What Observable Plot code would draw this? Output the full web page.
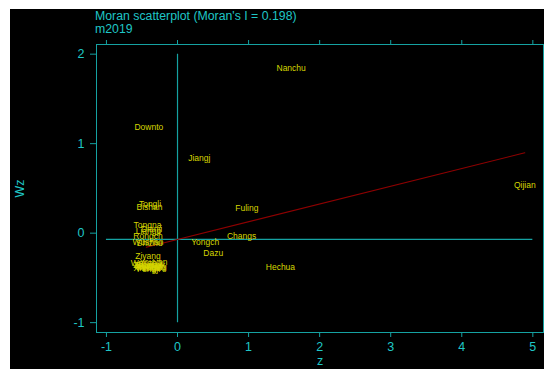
<!DOCTYPE html>
<html><head><meta charset="utf-8">
<script src="https://cdn.jsdelivr.net/npm/d3@7"></script>
<script src="https://cdn.jsdelivr.net/npm/@observablehq/plot@0.6"></script>
<style>
body{margin:0;background:#fff;width:544px;height:369px;overflow:hidden;position:relative;font-family:"Liberation Sans",Arial,sans-serif;}
#bg{position:absolute;left:10px;top:9px;width:534px;height:360px;background:#000;}
#title{position:absolute;left:95px;top:10px;color:#1fc6c6;font-size:12.3px;line-height:12.6px;white-space:nowrap;}
#chart{position:absolute;left:0;top:36px;}
#chart svg{overflow:visible;}
</style></head><body>
<div id="bg"></div>
<div id="title"><div>Moran scatterplot (Moran's I = 0.198)</div><div>m2019</div></div>
<div id="chart"></div>
<script>
const names = ["Nanchu","Downto","Jiangj","Qijian","Fuling","Changs","Yongch","Dazu","Hechua",
  "Tongli","Bishan","Tongna","Dianji","Liangp","Rongch","Wushan","Shizhu","Ziyang","Youyan",
  "Wanzho","Kaizho","Pengsh","Xiusha","Wulong","Fengji","Chengk","Zhongx","Fengdu"];
const zVals = [1.599,-0.404,0.307,4.887,0.976,0.901,0.390,0.503,1.448,
  -0.387,-0.394,-0.423,-0.366,-0.408,-0.415,-0.415,-0.394,-0.415,-0.338,
  -0.440,-0.423,-0.380,-0.437,-0.352,-0.408,-0.380,-0.423,-0.366];
const wzVals = [1.848,1.184,0.838,0.533,0.279,-0.037,-0.107,-0.227,-0.383,
  0.328,0.284,0.092,0.041,0.019,-0.031,-0.098,-0.115,-0.255,-0.327,
  -0.334,-0.372,-0.383,-0.394,-0.378,-0.400,-0.361,-0.355,-0.388];
const xTicks = [-1,0,1,2,3,4,5];
const yTicks = [-1,0,1,2];
const moranI = 0.198;
const meanZ = 0;
const meanWz = -0.07;

const data = names.map((n,i)=>({name:n, z:zVals[i], wz:wzVals[i]}));
const [zmin,zmax] = d3.extent(zVals);
const fit = [zmin,zmax].map(z=>({z, wz: meanWz + moranI*(z-meanZ)}));
const lineC = "#15a2a2", textC = "#1fc6c6";
const font = "Liberation Sans, Arial, sans-serif";

const plot = Plot.plot({
  width:544, height:333,
  marginLeft:96, marginRight:1, marginTop:8, marginBottom:37,
  style:{background:"transparent", fontFamily:font, fontSize:"12.5px", color:textC, overflow:"visible"},
  x:{domain:[-1.14,5.15]},
  y:{domain:[-1.11,2.108]},
  marks:[
    Plot.ruleX([meanZ],{y1:yTicks[0], y2:yTicks[yTicks.length-1], stroke:lineC, strokeWidth:1.2}),
    Plot.ruleY([meanWz],{x1:xTicks[0], x2:xTicks[xTicks.length-1], stroke:lineC, strokeWidth:1.2}),
    Plot.line(fit,{x:"z",y:"wz",stroke:"#8e0000",strokeWidth:1.1}),
    Plot.text(data,{x:"z",y:"wz",text:"name",fill:"#d6d600",fontSize:8.5,fontFamily:font}),
    Plot.frame({stroke:lineC}),
    Plot.axisX({ticks:xTicks, tickFormat:d=>String(d), tickSize:5, tickPadding:5, stroke:lineC, fill:textC, fontSize:12.5,
      label:"z", labelAnchor:"center", labelOffset:32, labelArrow:"none"}),
    Plot.axisX({anchor:"top", ticks:xTicks, tickSize:5, tickFormat:()=>"", stroke:lineC, label:null}),
    Plot.axisY({ticks:yTicks, tickFormat:d=>String(d), tickSize:6, tickPadding:6, stroke:lineC, fill:textC, fontSize:12.5,
      label:"Wz", labelAnchor:"center", labelOffset:81, labelArrow:"none"})
  ]
});
document.getElementById("chart").appendChild(plot);
</script>
</body></html>
